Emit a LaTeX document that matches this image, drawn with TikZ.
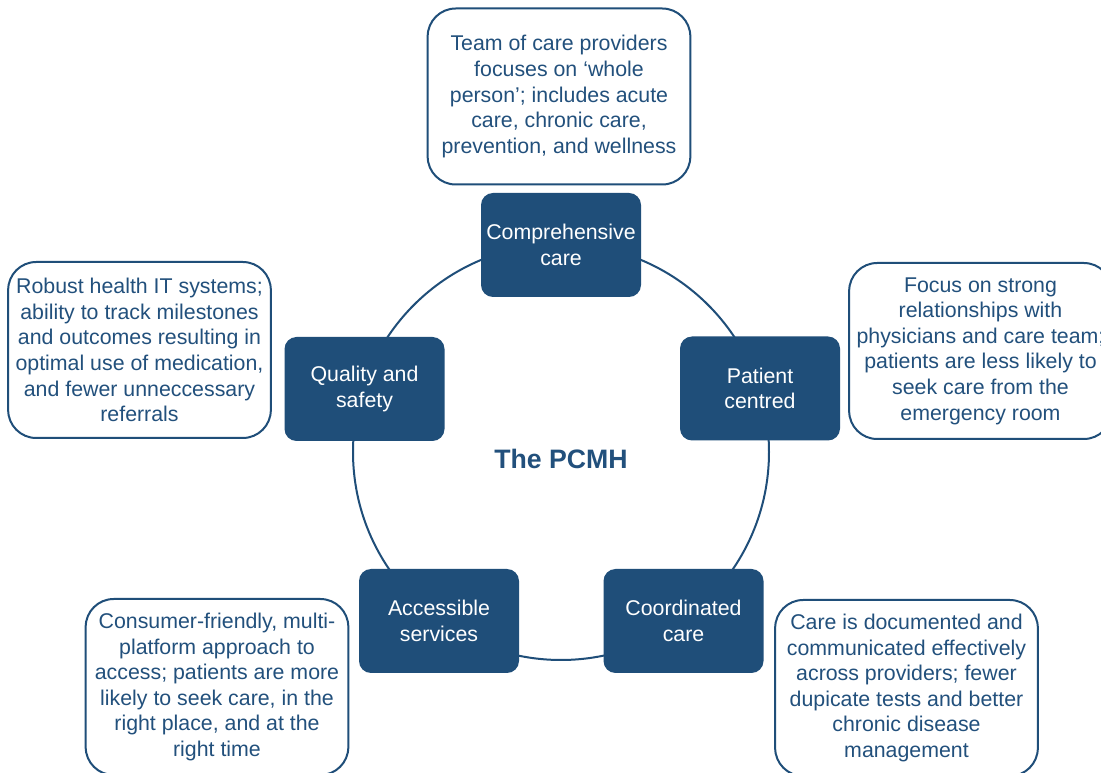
\documentclass[tikz,border=0pt]{standalone}
\usepackage{fontspec}
\setmainfont{Liberation Sans}
\definecolor{pblue}{HTML}{1F4E79}
\definecolor{tblue}{HTML}{22507C}
\begin{document}
\begin{tikzpicture}[x=0.75pt,y=-0.75pt,
  every node/.style={font=\fontsize{16pt}{19.2pt}\selectfont, align=center, inner sep=0pt},
  pillar/.style={fill=pblue, draw=none, text=white, rounded corners=9pt,
    minimum width=120pt, minimum height=78pt},
  infobox/.style={draw=pblue, line width=1.5pt, fill=white, text=tblue, rounded corners=21pt,
    minimum width=197pt, minimum height=132pt}]
\useasboundingbox (0,0) rectangle (1101,773);
\clip (0,0) rectangle (1101,773);
\fill[white] (0,0) rectangle (1101,773);
\coordinate (c) at (561,452);
\draw[pblue, line width=1.5pt] (c) circle[radius=156pt];
\node[font=\fontsize{20pt}{24pt}\selectfont\bfseries, text=tblue] (title) at (561,459) {The PCMH};
\node[pillar] (comp) at (561,245) {Comprehensive\\care};
\node[pillar] (pat) at (760,388.5) {Patient\\centred};
\node[pillar] (qual) at (364.5,389) {Quality and\\safety};
\node[pillar] (acc) at (439,621) {Accessible\\services};
\node[pillar] (coord) at (683.5,621) {Coordinated\\care};
\node[infobox] (tcomp) at (559,96.5) {Team of care providers\\focuses on ‘whole\\person’; includes acute\\care, chronic care,\\prevention, and wellness};
\node[infobox] (tpat) at (980.5,351) {Focus on strong\\relationships with\\physicians and care team;\\patients are less likely to\\seek care from the\\emergency room};
\node[infobox] (tqual) at (139.5,350) {Robust health IT systems;\\ability to track milestones\\and outcomes resulting in\\optimal use of medication,\\and fewer unneccessary\\referrals};
\node[infobox] (tacc) at (217,687) {Consumer-friendly, multi-\\platform approach to\\access; patients are more\\likely to seek care, in the\\right place, and at the\\right time};
\node[infobox] (tcoord) at (906.5,688) {Care is documented and\\communicated effectively\\across providers; fewer\\dupicate tests and better\\chronic disease\\management};
\end{tikzpicture}
\end{document}
